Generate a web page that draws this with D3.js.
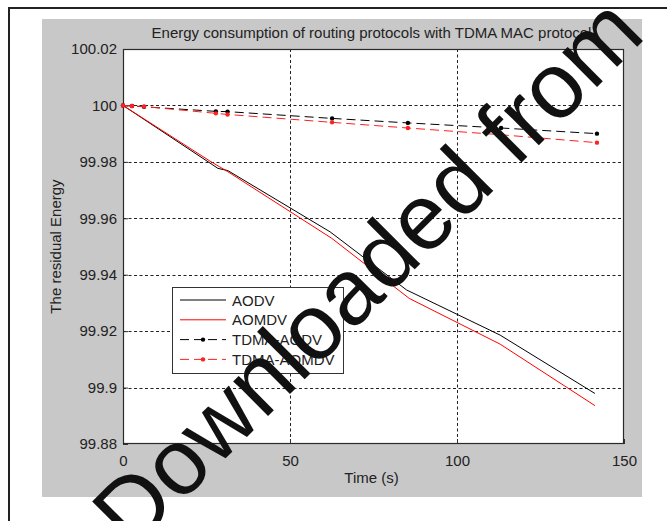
<!DOCTYPE html>
<html><head><meta charset="utf-8">
<script src="https://cdn.jsdelivr.net/npm/d3@7"></script>
<style>body{margin:0;background:#fff}svg{display:block;font-family:"Liberation Sans",Arial,sans-serif}</style>
</head><body>
<svg id="c" width="667" height="521"></svg>
<script>
const title = "Energy consumption of routing protocols with TDMA MAC protocol";
const xLabel = "Time (s)";
const yLabel = "The residual Energy";
const xTicks = [0, 50, 100, 150];
const yTicks = [99.88, 99.9, 99.92, 99.94, 99.96, 99.98, 100, 100.02];
const seriesNames = ["AODV", "AOMDV", "TDMA-AODV", "TDMA-AOMDV"];
const aodvX = [0, 26.9, 28.4, 31.4, 62.0, 84.9, 112.9, 141.3];
const aodvY = [100, 99.9789, 99.9777, 99.9769, 99.9552, 99.9346, 99.9186, 99.8979];
const aomdvX = [0, 26.0, 31.4, 62.5, 85.7, 112.9, 141.3];
const aomdvY = [100, 99.9803, 99.9765, 99.9529, 99.9316, 99.9154, 99.8936];
const tdmaX = [0, 2.7, 6.3, 27.8, 31.3, 62.6, 85.3, 113.2, 141.9];
const tdmaAodvY = [100, 99.9998, 99.9995, 99.9979, 99.9978, 99.9954, 99.9938, 99.9920, 99.9900];
const tdmaAomdvY = [100, 99.9998, 99.9996, 99.9972, 99.9968, 99.9940, 99.9920, 99.9896, 99.9868];
const watermark = "Downloaded from";

const svg = d3.select("#c");
// outer page frame
svg.append("rect").attr("x",9).attr("y",8).attr("width",700).attr("height",600)
  .attr("fill","#fff").attr("stroke","#222").attr("stroke-width",2);
// figure gray
svg.append("rect").attr("x",42).attr("y",19).attr("width",600).attr("height",478).attr("fill","#c8c8c8");

const L=123, R=624, T=49, B=444;
const x = d3.scaleLinear().domain([0,150]).range([L,R]);
const y = d3.scaleLinear().domain([99.88,100.02]).range([B,T]);
svg.append("rect").attr("x",L).attr("y",T).attr("width",R-L).attr("height",B-T).attr("fill","#fff");

// grid
const g = svg.append("g");
g.selectAll(".gx").data(xTicks.filter(d=>d>0&&d<150)).join("line")
  .attr("x1",d=>x(d)+0.5).attr("x2",d=>x(d)+0.5).attr("y1",T).attr("y2",B)
  .attr("stroke","#222").attr("stroke-dasharray","3,2.5");
g.selectAll(".gy").data(yTicks.filter(d=>d>99.88&&d<100.02)).join("line")
  .attr("y1",d=>Math.round(y(d))+0.5).attr("y2",d=>Math.round(y(d))+0.5).attr("x1",L).attr("x2",R)
  .attr("stroke","#222").attr("stroke-dasharray","3,2.5");

// axes
const ax = d3.axisBottom(x).tickValues(xTicks).tickSize(-5).tickPadding(8).tickFormat(d3.format("d"));
const ay = d3.axisLeft(y).tickValues(yTicks).tickSize(-5).tickPadding(6).tickFormat(d=>+d.toFixed(2)+"");
const gx = svg.append("g").attr("transform",`translate(0,${B})`).call(ax);
const gy = svg.append("g").attr("transform",`translate(${L},0)`).call(ay);
[gx,gy].forEach(a=>{
  a.select(".domain").remove();
  a.selectAll("text").attr("font-size",15).attr("fill","#222").attr("font-family","Liberation Sans, Arial, sans-serif");
  a.selectAll("line").attr("stroke","#333");
});
gx.selectAll("text").attr("dy","0.95em");
// box
svg.append("rect").attr("x",L+0.5).attr("y",T+0.5).attr("width",R-L-1).attr("height",B-T-1)
  .attr("fill","none").attr("stroke","#2a2a2a").attr("stroke-width",1.2);

// lines
const line = d3.line().x(d=>x(d[0])).y(d=>y(d[1]));
const zip = (a,b)=>a.map((v,i)=>[v,b[i]]);
const series = [
  {name:seriesNames[0], pts:zip(aodvX,aodvY), color:"#000", dash:null, mark:false},
  {name:seriesNames[1], pts:zip(aomdvX,aomdvY), color:"#ff0000", dash:null, mark:false},
  {name:seriesNames[2], pts:zip(tdmaX,tdmaAodvY), color:"#000", dash:"9,5", mark:true},
  {name:seriesNames[3], pts:zip(tdmaX,tdmaAomdvY), color:"#ff2020", dash:"9,5", mark:true}
];
series.forEach(s=>{
  svg.append("path").attr("d",line(s.pts)).attr("fill","none").attr("stroke",s.color)
    .attr("stroke-width",1).attr("stroke-dasharray",s.dash);
  if(s.mark) svg.append("g").selectAll("circle").data(s.pts).join("circle")
    .attr("cx",d=>x(d[0])).attr("cy",d=>y(d[1])).attr("r",2.2).attr("fill",s.color);
});

// legend
const lg = svg.append("g");
lg.append("rect").attr("x",172.5).attr("y",287.5).attr("width",171).attr("height",86)
  .attr("fill","#fff").attr("stroke","#333").attr("stroke-width",1);
series.forEach((s,i)=>{
  const yy = 300 + i*19.8;
  lg.append("line").attr("x1",180).attr("x2",226).attr("y1",yy).attr("y2",yy)
    .attr("stroke",s.color).attr("stroke-width",1).attr("stroke-dasharray",s.dash?"9,5":null);
  if(s.mark) lg.append("circle").attr("cx",203).attr("cy",yy).attr("r",2.2).attr("fill",s.color);
  lg.append("text").attr("x",232).attr("y",yy+5.5).attr("font-size",15).attr("fill","#222").text(s.name);
});

// titles
svg.append("text").attr("x",(L+R)/2-2).attr("y",38).attr("text-anchor","middle").attr("font-size",15).attr("fill","#222").text(title);
svg.append("text").attr("x",(L+R)/2-2).attr("y",483).attr("text-anchor","middle").attr("font-size",15).attr("fill","#222").text(xLabel);
svg.append("text").attr("transform",`translate(61,${(T+B)/2}) rotate(-90)`).attr("text-anchor","middle").attr("font-size",15).attr("fill","#222").text(yLabel);

// watermark
svg.append("text").attr("transform","translate(132,552) rotate(-45)").attr("font-size",93)
  .attr("fill","#111").attr("font-family","Liberation Sans, Arial, sans-serif").text(watermark);
</script>
</body></html>
